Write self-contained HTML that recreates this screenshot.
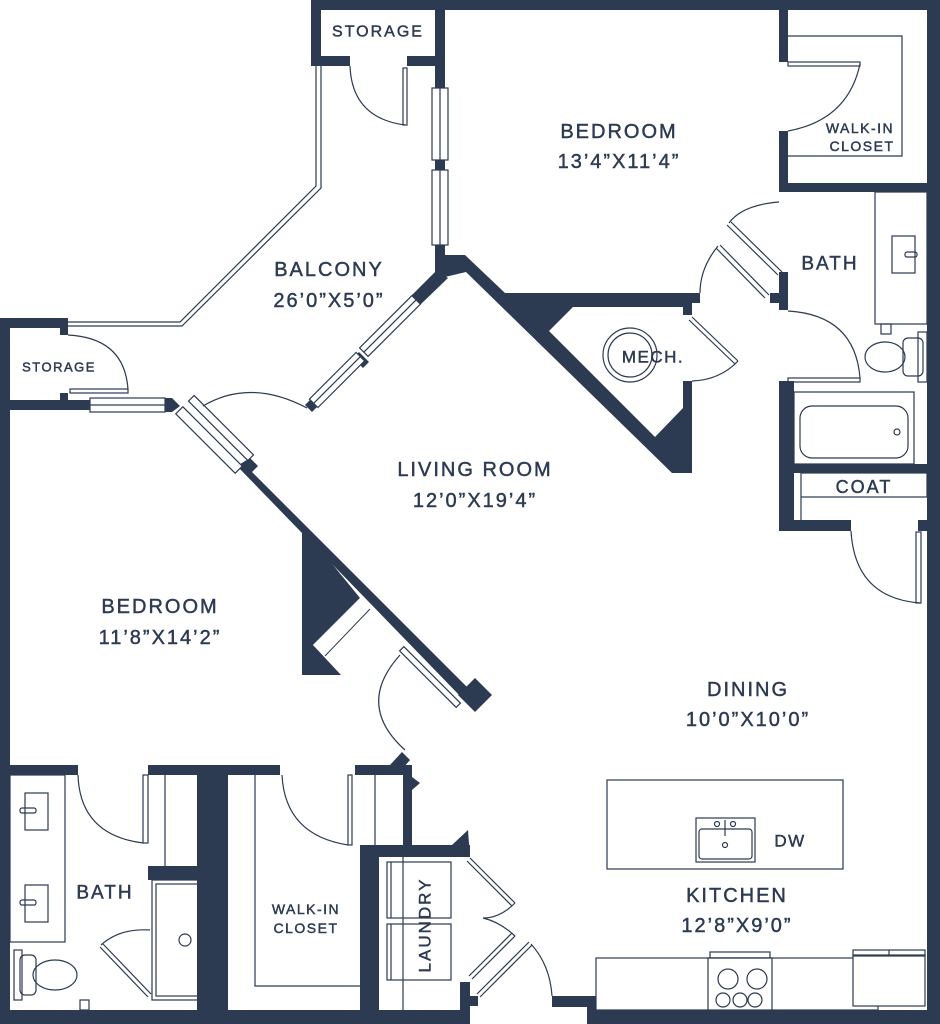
<!DOCTYPE html>
<html><head><meta charset="utf-8"><style>
html,body{margin:0;padding:0;background:#fff;}
svg{display:block;}
text{font-family:"Liberation Sans",sans-serif;fill:#2c3a52;stroke:#2c3a52;stroke-width:0.45;text-anchor:middle;dominant-baseline:central;}
.t{font-size:20px;letter-spacing:2px;}
.s{font-size:14px;letter-spacing:1.5px;}
</style></head><body>
<svg width="940" height="1024" viewBox="0 0 940 1024" xmlns="http://www.w3.org/2000/svg">
<g fill="#2c3a52" stroke="none">
<rect x="311" y="0" width="629" height="10"/>
<rect x="311" y="0" width="10" height="66"/>
<rect x="311" y="56" width="39" height="10"/>
<rect x="407" y="56" width="38" height="10"/>
<rect x="435" y="0" width="10" height="88"/>
<rect x="435" y="160" width="10" height="10"/>
<rect x="435" y="245" width="10" height="30"/>
<rect x="927" y="0" width="13" height="1024"/>
<rect x="779" y="0" width="9" height="62"/>
<rect x="779" y="131" width="9" height="60"/>
<rect x="779" y="183" width="161" height="9"/>
<rect x="779" y="272" width="9" height="38"/>
<rect x="770" y="293" width="18" height="10"/>
<rect x="779" y="381" width="15" height="150"/>
<rect x="779" y="520" width="72" height="11"/>
<rect x="918" y="520" width="10" height="11"/>
<rect x="794" y="464" width="134" height="9"/>
<polygon points="437,255 465,255 505,293 700,293 700,303 692,303 692,473 672,473 466,272 445,277 437,277"/>
<polygon points="437,270 448,278 421,304 411,296"/>
<polygon points="359,352 369,362 363,368 353,358"/>
<polygon points="305,405 315,395 322,402 312,412"/>
<rect x="0" y="318" width="10" height="706"/>
<rect x="0" y="318" width="68" height="10"/>
<rect x="60" y="328" width="8" height="7"/>
<rect x="0" y="400" width="90" height="10"/>
<rect x="60" y="393" width="8" height="7"/>
<polygon points="165,398 172,398 180,406 172,412 165,412"/>
<polygon points="237,466 250,458 258,466 252,472 470,690 462,698"/>
<polygon points="302,527 360,598 313,645 341,675 302,675"/>
<polygon points="475,678 492,695 475,712 458,695"/>
<rect x="10" y="765" width="68" height="10"/>
<rect x="148" y="765" width="132" height="10"/>
<rect x="355" y="765" width="48" height="10"/>
<polygon points="390,765 402,752 410,760 403,768"/>
<rect x="403" y="765" width="9" height="80"/>
<polygon points="403,768 412,777 420,783 412,790"/>
<rect x="197" y="775" width="31" height="235"/>
<rect x="148" y="866" width="52" height="14"/>
<rect x="360" y="845" width="19" height="179"/>
<rect x="360" y="845" width="110" height="12"/>
<polygon points="452,845 468,830 470,857 452,857"/>
<rect x="460" y="982" width="10" height="42"/>
<rect x="470" y="996" width="8" height="10"/>
<rect x="0" y="1010" width="470" height="14"/>
<rect x="552" y="996" width="45" height="11"/>
<rect x="587" y="1010" width="353" height="14"/>
<rect x="587" y="996" width="10" height="28"/>
</g>
<polygon points="549,331 573,307 683,307 683,408 655,437" fill="#fff"/>
<rect x="683" y="315" width="10" height="66" fill="#fff"/>
<polygon points="360,598 380,620 337,667 313,645" fill="#fff"/>
<line x1="370" y1="609" x2="325" y2="656" stroke="#2c3a52" stroke-width="1"/>
<g fill="none" stroke="#2c3a52" stroke-width="1.2">
<rect x="432" y="88" width="16" height="72" fill="#fff"/>
<line x1="440" y1="88" x2="440" y2="160"/>
<rect x="432" y="170" width="16" height="75" fill="#fff"/>
<line x1="440" y1="170" x2="440" y2="245"/>
<g transform="translate(390,326) rotate(-45)"><rect x="-37" y="-6" width="74" height="12" fill="#fff"/><line x1="-37" y1="0" x2="37" y2="0"/></g>
<g transform="translate(337,380) rotate(-45)"><rect x="-33" y="-6" width="66" height="12" fill="#fff"/><line x1="-33" y1="0" x2="33" y2="0"/></g>
<rect x="90" y="398" width="75" height="14" fill="#fff"/>
<line x1="90" y1="405" x2="165" y2="405"/>
<g transform="translate(209,440) rotate(45)"><rect x="-42" y="-5" width="84" height="10" fill="#fff"/></g>
<g transform="translate(221,428) rotate(45)"><rect x="-42" y="-4" width="84" height="8" fill="#fff"/></g>
<path d="M203,406 Q250,378 307,408"/>
<polyline points="316,66 316,186 180,322 68,322"/>
<polyline points="321,66 321,188 182,326 68,326"/>
<rect x="403" y="68" width="4" height="57"/>
<path d="M350,66 Q352,118 405,125"/>
<rect x="70" y="389" width="58" height="4"/>
<path d="M68,335 Q125,338 128,390"/>
<polyline points="788,36 902,36 902,156 788,156"/>
<rect x="788" y="62" width="72" height="4"/>
<path d="M860,64 Q848,120 788,131"/>
<line x1="782" y1="272" x2="731" y2="222"/><line x1="778" y1="275" x2="727" y2="225"/>
<path d="M729,223 Q742,205 779,202"/>
<line x1="769" y1="295" x2="720" y2="245"/><line x1="765" y1="298" x2="716" y2="248"/>
<path d="M718,246 Q700,268 700,293"/>
<rect x="788" y="378" width="72" height="4"/>
<path d="M860,378 Q855,315 788,311"/>
<line x1="692" y1="317" x2="738" y2="361"/><line x1="689" y1="320" x2="735" y2="364"/>
<path d="M738,361 Q720,380 692,381"/>
<circle cx="630" cy="355" r="27"/><circle cx="630" cy="355" r="22"/>
<rect x="875" y="192" width="52" height="132"/>
<rect x="892" y="236" width="23" height="37"/>
<rect x="905" y="252" width="12" height="5" rx="2"/>
<rect x="881" y="324" width="10" height="10"/>
<ellipse cx="885" cy="357" rx="20" ry="15"/>
<rect x="903" y="338" width="20" height="38" rx="5"/>
<rect x="918" y="332" width="9" height="50"/>
<rect x="794" y="392" width="120" height="72"/>
<rect x="800" y="406" width="108" height="52" rx="12"/>
<circle cx="897" cy="432" r="3"/>
<rect x="801" y="473" width="126" height="24"/>
<line x1="801" y1="497" x2="801" y2="520"/>
<rect x="916" y="532" width="5" height="71"/>
<path d="M851,531 Q855,598 920,603"/>
<g transform="translate(430,677) rotate(45)"><rect x="-40" y="-3" width="80" height="6" fill="#fff"/></g>
<path d="M400,655 Q355,705 405,750"/>
<rect x="143" y="775" width="5" height="68"/>
<path d="M78,775 Q80,835 143,843"/>
<line x1="165" y1="775" x2="165" y2="866"/>
<rect x="10" y="775" width="55" height="167"/>
<rect x="25" y="793" width="23" height="37"/><rect x="20" y="808" width="16" height="5" rx="2"/>
<rect x="25" y="885" width="23" height="37"/><rect x="20" y="900" width="16" height="5" rx="2"/>
<rect x="14" y="950" width="8" height="50"/>
<rect x="20" y="955" width="16" height="40" rx="5"/>
<ellipse cx="55" cy="975" rx="22" ry="15"/>
<rect x="80" y="1000" width="9" height="10"/>
<rect x="152" y="880" width="65" height="120"/>
<rect x="156" y="884" width="57" height="112"/>
<circle cx="185" cy="940" r="6"/>
<line x1="100" y1="947" x2="148" y2="997"/><line x1="103" y1="944" x2="151" y2="994"/>
<path d="M101,945 Q120,928 150,930"/>
<polyline points="255,775 255,986 360,986"/>
<rect x="348" y="775" width="4" height="70"/>
<path d="M282,775 Q285,835 348,845"/>
<line x1="375" y1="775" x2="375" y2="845"/>
<rect x="387" y="862" width="64" height="56"/><line x1="391" y1="862" x2="391" y2="918"/>
<rect x="387" y="924" width="64" height="56"/><line x1="391" y1="924" x2="391" y2="980"/>
<line x1="403" y1="857" x2="403" y2="1010"/>
<line x1="470" y1="858" x2="515" y2="903"/><line x1="467" y1="861" x2="512" y2="906"/>
<path d="M515,903 Q500,918 483,918 Q500,922 515,936"/>
<line x1="515" y1="936" x2="472" y2="979"/><line x1="512" y1="933" x2="469" y2="976"/>
<line x1="532" y1="945" x2="480" y2="997"/><line x1="529" y1="942" x2="477" y2="994"/>
<path d="M531,944 Q550,965 552,996"/>
<rect x="607" y="780" width="236" height="89"/>
<rect x="696" y="818" width="59" height="44"/>
<rect x="699" y="829" width="53" height="30" rx="3"/>
<circle cx="717" cy="824" r="2.5"/><circle cx="733" cy="824" r="2.5"/>
<line x1="725" y1="820" x2="725" y2="836"/>
<circle cx="725" cy="845" r="2.5"/>
<rect x="596" y="958" width="282" height="52" fill="#fff"/>
<rect x="708" y="958" width="64" height="52" fill="#fff"/>
<rect x="710" y="952" width="60" height="6"/>
<circle cx="728" cy="979" r="10"/><circle cx="757" cy="979" r="10"/>
<circle cx="723" cy="1000" r="7"/><circle cx="740" cy="1000" r="7"/><circle cx="755" cy="1000" r="7"/>
<rect x="853" y="955" width="72" height="51" fill="#fff"/>
<rect x="853" y="950" width="72" height="6"/>
<line x1="889" y1="950" x2="889" y2="956"/>
</g>
<text x="619" y="132" class="t">BEDROOM</text>
<text x="619" y="162" class="t">13’4”X11’4”</text>
<text x="329" y="270" class="t">BALCONY</text>
<text x="329" y="301" class="t">26’0”X5’0”</text>
<text x="475" y="470" class="t">LIVING ROOM</text>
<text x="475" y="501" class="t">12’0”X19’4”</text>
<text x="160" y="607" class="t">BEDROOM</text>
<text x="160" y="638" class="t">11’8”X14’2”</text>
<text x="748" y="690" class="t">DINING</text>
<text x="748" y="720" class="t">10’0”X10’0”</text>
<text x="737" y="896" class="t">KITCHEN</text>
<text x="737" y="926" class="t">12’8”X9’0”</text>
<text x="378" y="32" style="font-size:16px;letter-spacing:2px">STORAGE</text>
<text x="59" y="367" style="font-size:13px;letter-spacing:1.5px">STORAGE</text>
<text x="860" y="128" class="s">WALK-IN</text>
<text x="862" y="146" class="s">CLOSET</text>
<text x="830" y="264" style="font-size:19px;letter-spacing:2px">BATH</text>
<text x="653" y="357" style="font-size:17px;letter-spacing:1.5px">MECH.</text>
<text x="864" y="487" style="font-size:18px;letter-spacing:2px">COAT</text>
<text x="105" y="893" style="font-size:19px;letter-spacing:2px">BATH</text>
<text x="306" y="909" class="s">WALK-IN</text>
<text x="306" y="928" class="s">CLOSET</text>
<text x="790" y="841" style="font-size:17px;letter-spacing:1.5px">DW</text>
<text x="425" y="925" transform="rotate(-90 425 925)" style="font-size:17px;letter-spacing:2px">LAUNDRY</text>
</svg>
</body></html>
